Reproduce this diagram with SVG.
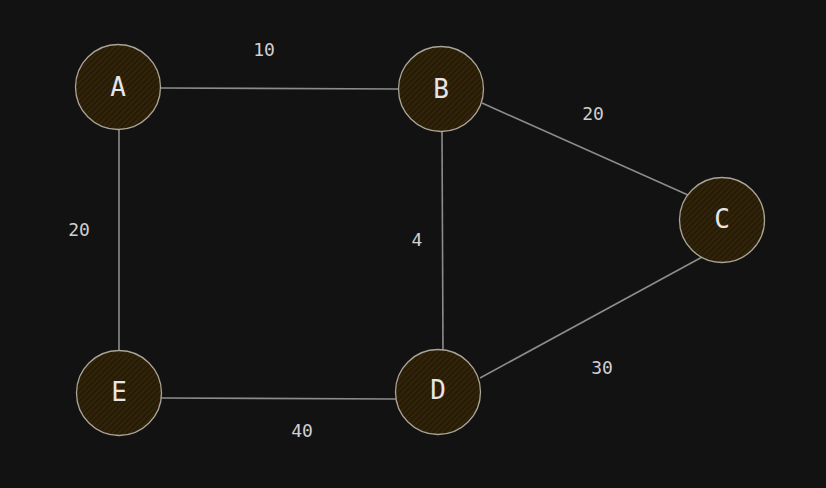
<svg xmlns="http://www.w3.org/2000/svg" width="826" height="488" viewBox="0 0 826 488">
<defs>
<pattern id="hatch" patternUnits="userSpaceOnUse" width="4" height="4" patternTransform="rotate(-45)">
<rect width="4" height="4" fill="#261b06"/>
<line x1="0" y1="2" x2="4" y2="2" stroke="#3e2c0c" stroke-width="1"/>
</pattern>
</defs>
<style>
.node circle{fill:url(#hatch);stroke:#a9a497;stroke-width:1.3}
.node text{font-family:"DejaVu Sans Mono",monospace;font-size:26px;fill:#e6e6e6;text-anchor:middle;dominant-baseline:central}
.edge{stroke:#8c8c8c;stroke-width:1.6;fill:none}
.lbl{font-family:"DejaVu Sans Mono",monospace;font-size:18px;fill:#d0d0d0;text-anchor:middle;dominant-baseline:central}
</style>
<rect width="826" height="488" fill="#121212"/>
<g id="connectors">
<line class="edge" x1="160" y1="88" x2="399" y2="89"/>
<line class="edge" x1="119" y1="130" x2="119" y2="351"/>
<line class="edge" x1="442" y1="132" x2="443" y2="352"/>
<line class="edge" x1="482" y1="103" x2="688" y2="195"/>
<line class="edge" x1="704" y1="256" x2="480" y2="378"/>
<line class="edge" x1="161" y1="398" x2="396" y2="399"/>
<text class="lbl" x="264" y="49">10</text>
<text class="lbl" x="79" y="229">20</text>
<text class="lbl" x="417" y="239">4</text>
<text class="lbl" x="593" y="113">20</text>
<text class="lbl" x="602" y="367">30</text>
<text class="lbl" x="302" y="430">40</text>
</g>
<g id="A" class="node"><circle cx="118" cy="87" r="42.5"/><text x="118" y="87">A</text></g>
<g id="B" class="node"><circle cx="441" cy="89" r="42.5"/><text x="441" y="89">B</text></g>
<g id="C" class="node"><circle cx="722" cy="220" r="42.5"/><text x="722" y="219">C</text></g>
<g id="D" class="node"><circle cx="438" cy="392" r="42.5"/><text x="438" y="390">D</text></g>
<g id="E" class="node"><circle cx="119" cy="393" r="42.5"/><text x="119" y="392">E</text></g>
</svg>
